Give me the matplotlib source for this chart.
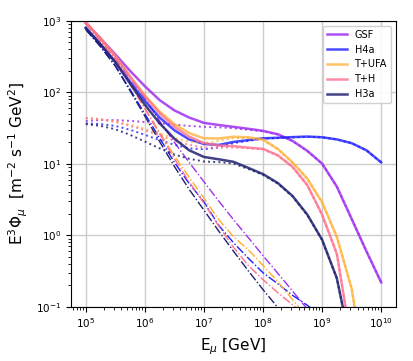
import numpy as np
import matplotlib
matplotlib.use("Agg")
import matplotlib.pyplot as plt

# energy grid (GeV)
energy = [1e5, 10**5.25, 10**5.5, 10**5.75, 1e6, 10**6.25, 10**6.5, 10**6.75, 1e7,
          10**7.25, 10**7.5, 10**7.75, 1e8, 10**8.25, 10**8.5, 10**8.75, 1e9,
          10**9.25, 10**9.5, 10**9.75, 1e10]

models = ["GSF", "H4a", "T+UFA", "T+H", "H3a"]

# total flux (solid)
gsf_total = [930, 570, 340, 200, 122, 78, 56, 44.5, 37.5, 35, 33, 31, 29, 26, 21, 15.2, 10.1, 4.8, 1.7, 0.6, 0.22]
h4a_total = [800, 470, 268, 140, 76, 44.5, 29.5, 22, 19, 18.4, 20.3, 21.5, 22.8, 23.2, 23.7, 24.1, 23.6, 22, 19.5, 15.5, 10.5]
tufa_total = [955, 567, 322, 168, 91, 54, 36, 27, 22.8, 22.7, 24, 23.6, 21.9, 16.2, 10.5, 6.2, 2.9, 0.95, 0.18, 0.01, 0.001]
th_total = [960, 565, 320, 165, 88, 51, 33, 24, 19.6, 18.1, 17.7, 16.9, 16.2, 13.2, 9.1, 5.05, 1.95, 0.55, 0.03, 0.002, 0.0001]
h3a_total = [795, 470, 265, 133, 67, 37, 22.5, 15.5, 12.5, 11.6, 10.7, 8.8, 7.2, 5.4, 3.55, 1.95, 0.87, 0.25, 0.025, 0.002, 0.0001]

# prompt flux (dotted)
gsf_prompt = [40, 41, 41, 40, 38.5, 37, 35.5, 34, 33, 32.5, 31.5, 30, 28.5, 25.7, 20.8, 15.1, 10.05, 4.8, 1.7, 0.6, 0.22]
h4a_prompt = [37, 36, 34, 30, 25.5, 21.5, 18.5, 16.5, 16, 17, 19.5, 21, 22.5, 23, 23.5, 24, 23.5, 22, 19.5, 15.5, 10.5]
tufa_prompt = [44, 42.5, 39.5, 35.5, 31, 26.5, 23, 20.5, 19.5, 21, 23, 23, 21.5, 16, 10.4, 6.15, 2.88, 0.95, 0.18, 0.01, 0.001]
th_prompt = [44, 42, 38.5, 34, 29.5, 25, 21, 18.5, 17, 16.8, 17, 16.5, 16, 13, 9.0, 5.0, 1.93, 0.55, 0.03, 0.002, 0.0001]
h3a_prompt = [36, 34, 30.5, 25.5, 20.5, 16.5, 13.5, 11.8, 10.8, 10.6, 10.1, 8.5, 7.0, 5.3, 3.5, 1.92, 0.86, 0.25, 0.025, 0.002, 0.0001]

# conventional flux (dash-dot)
gsf_conv = [912, 525, 295, 158, 83.2, 39.8, 20.0, 10.5, 5.62, 3.02, 1.66, 0.93, 0.52, 0.295, 0.166, 0.093, 0.052, 0.03, 0.017, 0.0095, 0.0054]
h4a_conv = [759, 437, 234, 110, 50.1, 22.9, 10.5, 5.3, 2.95, 1.38, 0.79, 0.48, 0.30, 0.21, 0.145, 0.105, 0.074, 0.05, 0.032, 0.02, 0.0126]
tufa_conv = [912, 525, 282, 132, 60.3, 27.5, 13.0, 6.5, 3.31, 1.66, 0.955, 0.63, 0.38, 0.224, 0.126, 0.071, 0.04, 0.022, 0.0126, 0.007, 0.004]
th_conv = [912, 525, 282, 132, 58.9, 26.3, 11.8, 5.6, 2.82, 1.35, 0.68, 0.38, 0.24, 0.158, 0.107, 0.071, 0.045, 0.028, 0.018, 0.011, 0.007]
h3a_conv = [759, 437, 234, 105, 46.5, 20.5, 9.2, 4.4, 2.25, 1.15, 0.60, 0.32, 0.174, 0.098, 0.050, 0.0275, 0.0151, 0.0083, 0.0046, 0.0025, 0.0014]

totals = [gsf_total, h4a_total, tufa_total, th_total, h3a_total]
prompts = [gsf_prompt, h4a_prompt, tufa_prompt, th_prompt, h3a_prompt]
convs = [gsf_conv, h4a_conv, tufa_conv, th_conv, h3a_conv]
colors = ["#a030f0", "#1f1fff", "#ffae30", "#ff6f8f", "#202070"]
alphas = [0.85, 0.8, 0.75, 0.8, 0.85]

fig = plt.figure(figsize=(4.13, 3.61), dpi=100)
ax = fig.add_axes([0.172, 0.150, 0.786, 0.792])

for name, tot, pr, cv, c, a in zip(models, totals, prompts, convs, colors, alphas):
    ax.plot(energy, tot, color=c, lw=1.8, alpha=a, label=name)
    ax.plot(energy, pr, color=c, lw=1.4, ls=":", alpha=a)
    ax.plot(energy, cv, color=c, lw=1.0, ls="-.", alpha=1.0)

ax.set_xscale("log")
ax.set_yscale("log")
ax.set_ylim(0.1, 1000)
ax.set_xlim(10**4.75, 10**10.245)
ax.grid(True, which="major", color="#cccccc", lw=1.0)
ax.set_axisbelow(True)
ax.tick_params(labelsize=7.5)
ax.set_xlabel(r"E$_\mu$ [GeV]", fontsize=11)
ax.set_ylabel(r"E$^3\Phi_\mu$  [m$^{-2}$ s$^{-1}$ GeV$^2$]", fontsize=11)
ax.legend(loc="upper right", fontsize=7, framealpha=0.9)

fig.savefig("out.png", dpi=100)
